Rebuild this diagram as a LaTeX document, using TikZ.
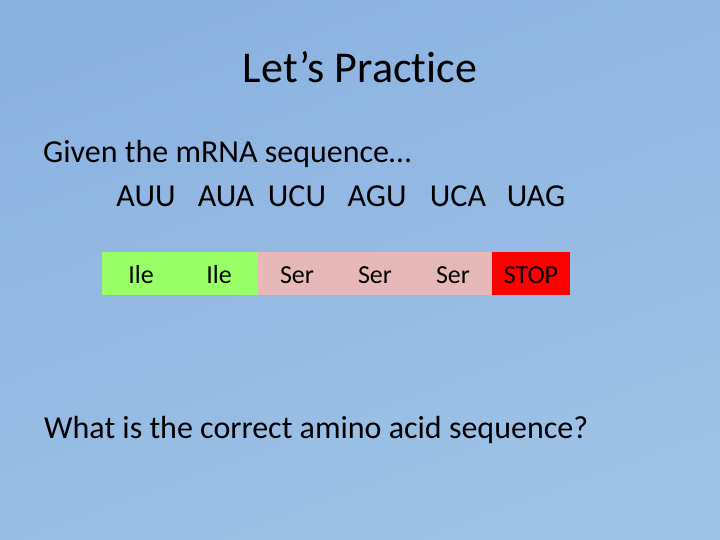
\documentclass[tikz,border=0pt]{standalone}
\usepackage{fontspec}
\setmainfont{Carlito}[Ligatures={NoCommon,TeX}]
\usetikzlibrary{positioning}

\definecolor{slidetop}{RGB}{140,178,225}
\definecolor{slidebot}{RGB}{158,195,230}
\definecolor{ilegreen}{RGB}{153,255,102}
\definecolor{serpink}{RGB}{230,185,184}
\definecolor{stopred}{RGB}{255,0,0}

\tikzset{
  cell/.style={minimum width=78pt, minimum height=43pt, inner sep=0pt, outer sep=0pt, text height=20.5pt, text depth=0pt, font=\fontsize{26}{30}\selectfont},
  codon/.style={anchor=base, inner sep=0pt, font=\fontsize{32}{38}\selectfont},
  body/.style={anchor=base west, inner sep=0pt, font=\fontsize{32}{38}\selectfont}
}

\begin{document}
\begin{tikzpicture}[x=1pt, y=-1pt]
\shade[top color=slidetop, bottom color=slidebot, shading angle=20] (0,0) rectangle (720,540); % background
\useasboundingbox (0,0) rectangle (720,540);
\node[anchor=base, inner sep=0pt, font=\fontsize{44}{52}\selectfont] (title) at (360,83) {Let’s Practice}; % title
\node[body] (given) at (43,163) {Given the mRNA sequence…}; % prompt
% codons
\node[codon] (auu) at (146,207) {AUU};
\node[codon] (aua) at (226,207) {AUA};
\node[codon] (ucu) at (297,207) {UCU};
\node[codon] (agu) at (377,207) {AGU};
\node[codon] (uca) at (458,207) {UCA};
\node[codon] (uag) at (536,207) {UAG};
% amino acid cells
\node[cell, fill=ilegreen] (ile1) at (141,273.5) {Ile};
\node[cell, fill=ilegreen, right=0pt of ile1] (ile2) {Ile};
\node[cell, fill=serpink, right=0pt of ile2] (ser1) {Ser};
\node[cell, fill=serpink, right=0pt of ser1] (ser2) {Ser};
\node[cell, fill=serpink, right=0pt of ser2] (ser3) {Ser};
\node[cell, fill=stopred, right=0pt of ser3] (stop) {STOP};
\node[body] (question) at (44,438) {What is the correct amino acid sequence?}; % question
\end{tikzpicture}
\end{document}
